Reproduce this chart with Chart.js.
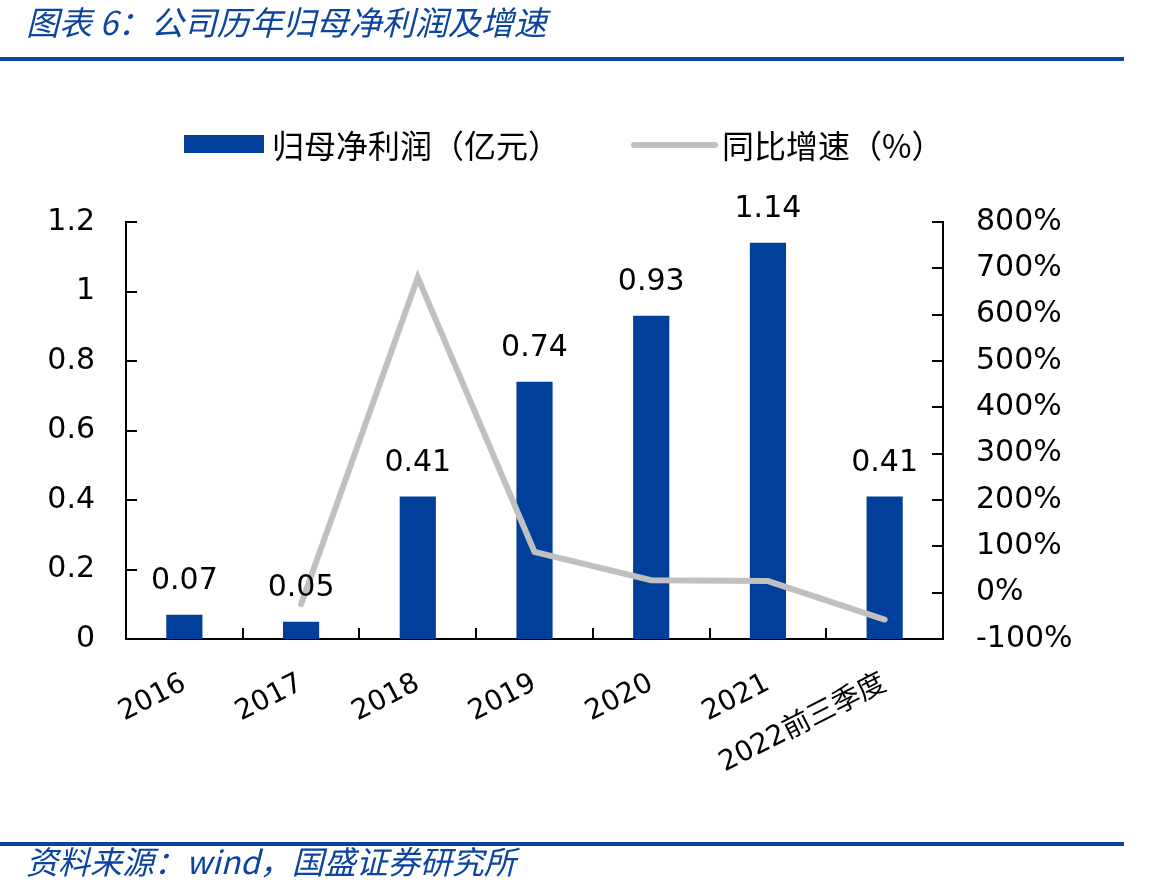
<!DOCTYPE html>
<html>
<head>
<meta charset="utf-8">
<script src="https://cdn.jsdelivr.net/npm/chart.js@4.4.0/dist/chart.umd.min.js"></script>
<style>
	html, body { margin: 0; padding: 0; background: #fff; }
	#wrap { position: relative; width: 1160px; height: 895px; }
</style>
</head>
<body>
<div id="wrap"><canvas id="chart" width="1160" height="895"></canvas></div>
<script>
const years = ["2016", "2017", "2018", "2019", "2020", "2021", "2022前三季度"];
const profit = [0.07, 0.05, 0.41, 0.74, 0.93, 1.14, 0.41];
const growth = [null, -25, 680, 88, 27, 25, -58];
const profitLabels = ["0.07", "0.05", "0.41", "0.74", "0.93", "1.14", "0.41"];

const BLUE = "#00409a";
const GREY = "#c0c0c0";
const HEAD_BLUE = "#0b45a0";
const NUM_FONT = '"DejaVu Sans", "Noto Sans CJK SC", sans-serif';
const CJK_FONT = '"Noto Sans CJK SC", "DejaVu Sans", sans-serif';

const decor = {
	id: "decor",
	afterDraw(chart) {
		const ctx = chart.ctx;
		const x = chart.scales.x;
		const y = chart.scales.y;
		const y1 = chart.scales.y1;
		ctx.save();

		// header and footer
		ctx.fillStyle = HEAD_BLUE;
		ctx.fillRect(0, 57, 1124, 4);
		ctx.fillRect(0, 842, 1124, 4);
		ctx.textBaseline = "middle";
		ctx.textAlign = "left";
		ctx.font = "italic 33px " + CJK_FONT;
		ctx.fillText("图表 6：公司历年归母净利润及增速", 26, 22);
		ctx.font = "italic 32px " + CJK_FONT;
		ctx.fillText("资料来源：wind，国盛证券研究所", 26, 862);

		// legend
		ctx.fillStyle = BLUE;
		ctx.fillRect(184, 135, 80, 18);
		ctx.strokeStyle = GREY;
		ctx.lineWidth = 6;
		ctx.lineCap = "round";
		ctx.beginPath();
		ctx.moveTo(634, 145);
		ctx.lineTo(715, 145);
		ctx.stroke();
		ctx.fillStyle = "#000";
		ctx.font = "32px " + CJK_FONT;
		ctx.fillText("归母净利润（亿元）", 272, 146);
		ctx.fillText("同比增速（%）", 722, 146);

		// inward tick marks
		ctx.strokeStyle = "#000";
		ctx.lineWidth = 2;
		ctx.lineCap = "butt";
		ctx.beginPath();
		y.ticks.forEach(t => {
			const py = Math.round(y.getPixelForValue(t.value));
			ctx.moveTo(x.left, py);
			ctx.lineTo(x.left + 11, py);
		});
		y1.ticks.forEach(t => {
			const py = Math.round(y1.getPixelForValue(t.value));
			ctx.moveTo(x.right, py);
			ctx.lineTo(x.right - 11, py);
		});
		for (let i = 0; i < years.length - 1; i++) {
			const px = Math.round((x.getPixelForValue(i) + x.getPixelForValue(i + 1)) / 2);
			ctx.moveTo(px, y.bottom);
			ctx.lineTo(px, y.bottom - 11);
		}
		ctx.stroke();

		// value labels above bars
		const meta = chart.getDatasetMeta(1);
		ctx.font = "30px " + NUM_FONT;
		ctx.textAlign = "center";
		ctx.textBaseline = "alphabetic";
		meta.data.forEach((bar, i) => {
			ctx.fillText(profitLabels[i], bar.x, bar.y - 26);
		});
		ctx.restore();
	},
};

new Chart(document.getElementById("chart").getContext("2d"), {
	type: "bar",
	data: {
		labels: years,
		datasets: [
			{
				type: "line",
				label: "同比增速（%）",
				data: growth,
				yAxisID: "y1",
				borderColor: GREY,
				borderWidth: 6,
				borderCapStyle: "round",
				borderJoinStyle: "miter",
				pointRadius: 0,
				tension: 0,
				order: 0,
			},
			{
				label: "归母净利润（亿元）",
				data: profit,
				yAxisID: "y",
				backgroundColor: BLUE,
				borderWidth: 0,
				categoryPercentage: 1,
				barPercentage: 0.31,
				order: 1,
			},
		],
	},
	options: {
		responsive: false,
		animation: false,
		layout: { padding: { top: 222, left: 0, right: 0, bottom: 0 } },
		plugins: {
			legend: { display: false },
			tooltip: { enabled: false },
		},
		scales: {
			x: {
				grid: { display: false, drawTicks: false },
				border: { display: true, color: "#000", width: 2 },
				ticks: {
					color: "#000",
					font: { family: NUM_FONT, size: 28 },
					minRotation: 27,
					maxRotation: 27,
					autoSkip: false,
					padding: 28,
				},
				afterFit(scale) { scale.height = 895 - 639; },
			},
			y: {
				position: "left",
				min: 0,
				max: 1.2,
				grid: { display: false, drawTicks: false },
				border: { display: true, color: "#000", width: 2 },
				ticks: {
					stepSize: 0.2,
					color: "#000",
					font: { family: NUM_FONT, size: 30 },
					padding: 31,
					callback: v => String(Math.round(v * 10) / 10),
				},
				afterFit(scale) { scale.width = 126; },
			},
			y1: {
				position: "right",
				min: -100,
				max: 800,
				grid: { display: false, drawTicks: false },
				border: { display: true, color: "#000", width: 2 },
				ticks: {
					stepSize: 100,
					color: "#000",
					font: { family: NUM_FONT, size: 30 },
					padding: 33,
					callback: v => v + "%",
				},
				afterFit(scale) { scale.width = 1160 - 943; },
			},
		},
	},
	plugins: [decor],
});
</script>
</body>
</html>
